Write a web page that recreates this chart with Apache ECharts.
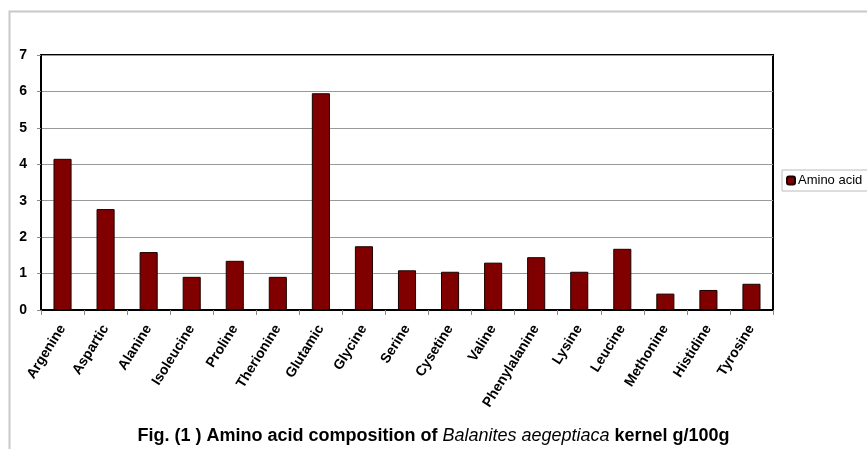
<!DOCTYPE html>
<html>
<head>
<meta charset="utf-8">
<script src="https://cdn.jsdelivr.net/npm/echarts@6/dist/echarts.min.js"></script>
<style>
html,body{margin:0;padding:0;background:#fff;}
#chart{width:867px;height:449px;}
</style>
</head>
<body>
<div id="chart"></div>
<script>
let categories = ['Argenine','Aspartic','Alanine','Isoleucine','Proline','Therionine','Glutamic','Glycine',
    'Serine','Cysetine','Valine','Phenylalanine','Lysine','Leucine','Methonine','Histidine','Tyrosine'];
let aminoAcid = [4.15, 2.77, 1.59, 0.91, 1.35, 0.91, 5.95, 1.75, 1.09, 1.05, 1.30, 1.45, 1.05, 1.68, 0.45, 0.55, 0.72];
let yTicks = [0, 1, 2, 3, 4, 5, 6, 7];

let chart = echarts.init(document.getElementById('chart'));
chart.setOption({
    animation: false,
    textStyle: {fontFamily: 'Liberation Sans, Arial, sans-serif'},
    graphic: [
        {
            type: 'rect',
            shape: {x: 9.5, y: 11.5, width: 900, height: 500},
            style: {fill: 'none', stroke: '#c8c8c8', lineWidth: 2},
            z: -1
        },
        {
            type: 'text',
            left: 'center',
            top: 427,
            style: {
                text: '{b|Fig. (1 ) Amino acid composition of }{i|Balanites aegeptiaca}{b| kernel g/100g}',
                rich: {
                    b: {fontSize: 18, fontWeight: 'bold', fill: '#000', fontFamily: 'Liberation Sans, Arial'},
                    i: {fontSize: 18, fontStyle: 'italic', fill: '#000', fontFamily: 'Liberation Sans, Arial'}
                }
            }
        }
    ],
    legend: {
        left: 782,
        top: 170,
        orient: 'vertical',
        data: ['Amino acid'],
        itemWidth: 8,
        itemHeight: 8,
        itemGap: 4,
        padding: [4, 6, 4, 4],
        borderColor: '#bbb',
        borderWidth: 1,
        textStyle: {fontSize: 13, color: '#000', padding: [0, 0, 0, -2]}
    },
    grid: {left: 41, right: 94, top: 55, bottom: 139, show: true, borderColor: '#000', borderWidth: 2},
    xAxis: {
        type: 'category',
        data: categories,
        axisLine: {lineStyle: {color: '#000', width: 2}},
        axisTick: {show: true, length: 5, inside: false, lineStyle: {color: '#888'}},
        axisLabel: {rotate: 58, fontSize: 14, fontWeight: 'bold', color: '#000', margin: 16, interval: 0}
    },
    yAxis: {
        type: 'value',
        min: yTicks[0],
        max: yTicks[yTicks.length - 1],
        interval: 1,
        axisLine: {show: true, lineStyle: {color: '#000', width: 2}},
        axisTick: {show: true, length: 4, lineStyle: {color: '#888'}},
        axisLabel: {fontSize: 14, fontWeight: 'bold', color: '#000', margin: 14},
        splitLine: {lineStyle: {color: '#999', width: 1}}
    },
    series: [{
        name: 'Amino acid',
        type: 'bar',
        data: aminoAcid,
        barWidth: '42%',
        itemStyle: {color: '#800000', borderColor: '#1a0000', borderWidth: 1}
    }]
});
</script>
</body>
</html>
